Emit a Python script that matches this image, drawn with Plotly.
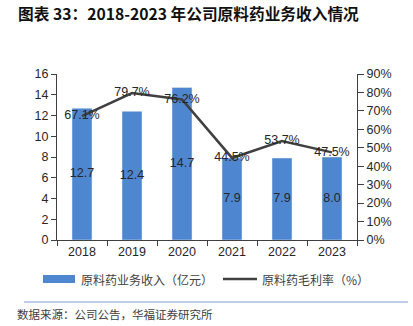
import plotly.graph_objects as go

years = ["2018", "2019", "2020", "2021", "2022", "2023"]
revenue = [12.7, 12.4, 14.7, 7.9, 7.9, 8.0]
margin = [67.1, 79.7, 76.2, 44.5, 53.7, 47.5]
left_ticks = [0, 2, 4, 6, 8, 10, 12, 14, 16]
right_ticks = [0, 10, 20, 30, 40, 50, 60, 70, 80, 90]

BLUE = "#4F86D0"
LINE = "#404040"
TXT = "#262626"
FONT = "Liberation Sans, Arial, sans-serif"
CJK = "Noto Sans CJK SC"

fig = go.Figure()
fig.add_trace(go.Bar(
    x=years, y=revenue, marker_color=BLUE, width=0.4,
    showlegend=False, yaxis="y"))
# bar value labels placed at the middle of each bar
fig.add_trace(go.Scatter(
    x=years, y=[v / 2 for v in revenue], mode="text",
    text=[f"{v:.1f}" for v in revenue], textposition="middle center",
    textfont=dict(size=12.5, color=TXT, family=FONT),
    showlegend=False, yaxis="y", cliponaxis=False, hoverinfo="skip"))
fig.add_trace(go.Scatter(
    x=years, y=margin, mode="lines+text", line=dict(color=LINE, width=2.5),
    text=[f"{v:.1f}%" for v in margin], textposition="middle center",
    textfont=dict(size=12.5, color=TXT, family=FONT),
    showlegend=False, yaxis="y2", cliponaxis=False))

fig.update_layout(
    width=413, height=326,
    margin=dict(l=57, r=56, t=74, b=86),
    paper_bgcolor="white", plot_bgcolor="white",
    font=dict(family=FONT, size=12.5, color=TXT),
    xaxis=dict(showline=True, linecolor="#404040", linewidth=1,
               ticks="outside", tickcolor="#404040", ticklen=5,
               tickson="boundaries", tickfont=dict(size=12.5, color=TXT),
               showgrid=False),
    yaxis=dict(range=[0, 16], tickvals=left_ticks, showline=True,
               linecolor="#404040", linewidth=1, ticks="outside",
               tickcolor="#404040", ticklen=5, showgrid=False,
               zeroline=False, tickfont=dict(size=12.5, color=TXT)),
    yaxis2=dict(range=[0, 90], tickvals=right_ticks,
                ticktext=[f"{v}%" for v in right_ticks],
                overlaying="y", side="right", showline=True,
                linecolor="#404040", linewidth=1, ticks="outside",
                tickcolor="#404040", ticklen=6, showgrid=False,
                zeroline=False, tickfont=dict(size=12.5, color=TXT)),
)

# manual legend and decorations (pixel -> paper conversion)
def px(x):
    return (x - 57) / 300
def py(y):
    return (240 - y) / 166

fig.add_shape(type="rect", xref="paper", yref="paper",
              x0=px(43), x1=px(75), y0=py(283), y1=py(275),
              fillcolor=BLUE, line=dict(width=0))
fig.add_shape(type="line", xref="paper", yref="paper",
              x0=px(223), x1=px(257), y0=py(279), y1=py(279),
              line=dict(color=LINE, width=2.5))
fig.add_shape(type="line", xref="paper", yref="paper",
              x0=px(24), x1=px(408), y0=py(302), y1=py(302),
              line=dict(color="#7F9FD0", width=1.2))

fig.add_annotation(xref="paper", yref="paper", x=px(79), y=py(279),
                   xanchor="left", yanchor="middle", showarrow=False,
                   text="原料药业务收入（亿元）",
                   font=dict(family=CJK, size=12, color="#404040"))
fig.add_annotation(xref="paper", yref="paper", x=px(260), y=py(279),
                   xanchor="left", yanchor="middle", showarrow=False,
                   text="原料药毛利率（%）",
                   font=dict(family=CJK, size=12, color="#404040"))
fig.add_annotation(xref="paper", yref="paper", x=px(15), y=py(314),
                   xanchor="left", yanchor="middle", showarrow=False,
                   text="数据来源：公司公告，华福证券研究所",
                   font=dict(family=CJK, size=11.5, color="#404040"))
fig.add_annotation(xref="paper", yref="paper", x=px(16), y=py(14),
                   xanchor="left", yanchor="middle", showarrow=False,
                   text="<b>图表 33：2018-2023 年公司原料药业务收入情况</b>",
                   font=dict(family=CJK, size=15.7, color="#111111"))

fig.write_html("out.html")
